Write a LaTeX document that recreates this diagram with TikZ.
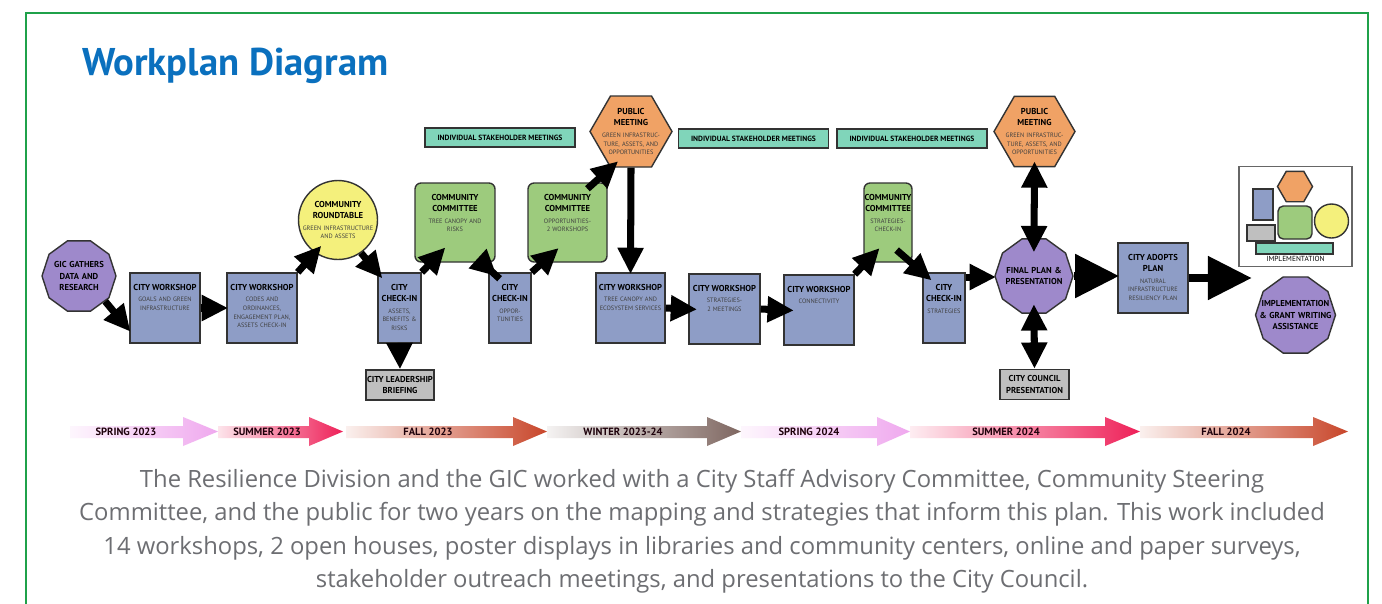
\documentclass[tikz,border=0pt]{standalone}
\usepackage{fontspec}
\setmainfont{PT Sans}
\newfontfamily\capfont{Open Sans}
\usetikzlibrary{arrows.meta,shapes.geometric}

\definecolor{framegreen}{HTML}{1FA14A}
\definecolor{titleblue}{HTML}{0A70BE}
\definecolor{captiongray}{HTML}{6D6E72}
\definecolor{wsblue}{HTML}{8E9DC6}
\definecolor{ccgreen}{HTML}{9DCB7D}
\definecolor{rtyellow}{HTML}{F4F07C}
\definecolor{pmorange}{HTML}{F0A265}
\definecolor{gicpurple}{HTML}{9E89CB}
\definecolor{brgray}{HTML}{BFBFBF}
\definecolor{shteal}{HTML}{80D5BA}
\definecolor{spring}{HTML}{EFA8EE}
\definecolor{summer}{HTML}{EE2058}
\definecolor{fall}{HTML}{C8462A}
\definecolor{winter}{HTML}{7E6660}

\newcommand{\subfont}{\fontsize{3.6}{4.9}\selectfont}
\newcommand{\tfont}{\fontsize{4.9}{6.3}\selectfont\bfseries}
\newcommand{\hd}[1]{{\leavevmode\tfont\color{black}#1\par}\vspace{1.9pt}}

\begin{document}
\begin{tikzpicture}[x=0.02cm, y=-0.02cm,
  wbox/.style={draw=black!80, line width=0.8pt, fill=wsblue, text width=#1, align=center,
    inner xsep=0pt, inner ysep=0.2cm, text height=0.14cm, text depth=0.86cm, font=\subfont, text=black!75},
  cbox/.style={wbox=#1, fill=ccgreen, rounded corners=0.12cm, text depth=1.04cm},
  gbox/.style={draw=black!80, line width=0.8pt, fill=brgray, minimum width=#1, minimum height=0.6cm,
    inner sep=0pt, align=center, font=\tfont},
  sbox/.style={draw=black!80, line width=0.8pt, fill=shteal, minimum width=3cm, minimum height=0.38cm,
    inner sep=0pt, font=\fontsize{4.3}{5}\selectfont\bfseries},
  hexa/.style={regular polygon, regular polygon sides=6, draw=black!80, line width=0.8pt, fill=pmorange,
    minimum size=1.64cm, inner sep=-16pt, text width=1.4cm, align=center, font=\subfont, text=black!75},
  poly/.style={regular polygon, regular polygon sides=10, draw=black!80, line width=0.8pt, fill=gicpurple,
    minimum size=#1, inner sep=-16pt, text width=1.5cm, align=center, font=\tfont},
  arr/.style={line width=4pt, -{Triangle[length=15pt,width=14pt]}, shorten >=-1pt},
  dblarr/.style={line width=4pt, {Triangle[length=15pt,width=14pt]}-{Triangle[length=15pt,width=14pt]}},
  bigarr/.style={line width=4.5pt, -{Triangle[length=25pt,width=24pt]}, shorten >=-1pt},
  season/.style={font=\fontsize{6}{7}\selectfont\bfseries, text=black!85!purple, inner sep=0pt}]

\fill[white] (0,0) rectangle (1382,603);
\useasboundingbox (0,0) rectangle (1382,603);
\draw[framegreen, line width=1.6pt] (26,620) -- (26,13) -- (1368,13) -- (1368,620);

\node[anchor=base west, inner sep=0pt, font=\fontsize{22}{26}\selectfont\bfseries, text=titleblue] (title) at (82,75) {Workplan Diagram};

\node[poly=1.48cm] (gic) at (79,276) {GIC GATHERS\\DATA AND\\RESEARCH};
\node[wbox=1.4cm] (cw1) at (165,308) {\hd{CITY WORKSHOP}GOALS AND GREEN\\INFRASTRUCTURE};
\node[wbox=1.4cm] (cw2) at (262,308) {\hd{CITY WORKSHOP}CODES AND\\ORDINANCES,\\ENGAGEMENT PLAN,\\ASSETS CHECK-IN};
\node[circle, draw=black!80, line width=0.8pt, fill=rtyellow, minimum size=1.58cm, inner sep=-18pt, text width=1.56cm, align=center, font=\subfont, text=black!75] (rt) at (338,220) {\hd{COMMUNITY\\ROUNDTABLE}GREEN INFRASTRUCTURE\\AND ASSETS};
\node[wbox=0.86cm] (ci1) at (399.5,308) {\hd{CITY\\CHECK-IN}ASSETS,\\BENEFITS \&\\RISKS};
\node[gbox=1.36cm] (brief) at (400,385) {CITY LEADERSHIP\\BRIEFING};
\node[cbox=1.6cm] (cc1) at (455,222.5) {\hd{COMMUNITY\\COMMITTEE}TREE CANOPY AND\\RISKS};
\node[wbox=0.84cm] (ci2) at (510,308) {\hd{CITY\\CHECK-IN}OPPOR-\\TUNITIES};
\node[cbox=1.58cm] (cc2) at (567.5,222.5) {\hd{COMMUNITY\\COMMITTEE}OPPORTUNITIES-\\2 WORKSHOPS};
\node[sbox] (sh1) at (500,137.5) {INDIVIDUAL STAKEHOLDER MEETINGS};
\node[hexa] (pm1) at (631,131.5) {\hd{PUBLIC\\MEETING}GREEN INFRASTRUC-\\TURE, ASSETS, AND\\OPPORTUNITIES};
\node[wbox=1.38cm] (cw3) at (630.5,308) {\hd{CITY WORKSHOP}TREE CANOPY AND\\ECOSYSTEM SERVICES};
\node[wbox=1.42cm] (cw4) at (724.5,309) {\hd{CITY WORKSHOP}STRATEGIES-\\2 MEETINGS};
\node[sbox] (sh2) at (753.5,138.5) {INDIVIDUAL STAKEHOLDER MEETINGS};
\node[sbox] (sh3) at (912,138.5) {INDIVIDUAL STAKEHOLDER MEETINGS};
\node[wbox=1.4cm] (cw5) at (819,310) {\hd{CITY WORKSHOP}CONNECTIVITY};
\node[cbox=0.96cm] (cc3) at (888,222.5) {\hd{COMMUNITY\\COMMITTEE}STRATEGIES-\\CHECK-IN};
\node[wbox=0.84cm] (ci3) at (944,308) {\hd{CITY\\CHECK-IN}STRATEGIES};
\node[hexa, minimum size=1.62cm] (pm2) at (1034.5,131.5) {\hd{PUBLIC\\MEETING}GREEN INFRASTRUC-\\TURE, ASSETS, AND\\OPPORTUNITIES};
\node[poly=1.56cm] (fin) at (1034,276) {FINAL PLAN \&\\PRESENTATION};
\node[gbox=1.38cm] (council) at (1034.5,384.5) {CITY COUNCIL\\PRESENTATION};
\node[wbox=1.4cm] (adopt) at (1153,278) {\hd{CITY ADOPTS\\PLAN}NATURAL\\INFRASTRUCTURE\\RESILIENCY PLAN};
\node[draw=black!60, line width=0.8pt, fill=white, text width=2.26cm, align=center, inner xsep=0pt, inner ysep=0.06cm, text height=1.84cm, text depth=0.04cm, font=\fontsize{4.2}{5}\selectfont] (implbox) at (1295.5,216.5) {IMPLEMENTATION};
\node[poly=1.6cm] (impl) at (1295.5,315) {IMPLEMENTATION\\\& GRANT WRITING\\ASSISTANCE};
\coordinate (implin) at (1250,278);

\draw[line width=0.8pt, draw=black!80, fill=wsblue] (1253,189) rectangle (1273,220);
\draw[line width=0.8pt, draw=black!80, fill=pmorange] (1277.5,186.5) -- (1286.25,171.3) -- (1303.75,171.3) -- (1312.5,186.5) -- (1303.75,201.7) -- (1286.25,201.7) -- cycle;
\draw[line width=0.8pt, draw=black!80, fill=ccgreen, rounded corners=3pt] (1278,206) rectangle (1312,239);
\draw[line width=0.8pt, draw=black!80, fill=rtyellow] (1331.5,221) circle (17);
\draw[line width=0.8pt, draw=black!80, fill=brgray] (1247,225) rectangle (1275,241);
\draw[line width=0.8pt, draw=black!80, fill=shteal] (1256,243) rectangle (1333,254);

\draw[arr] (gic.-44) -- (cw1.212);
\draw[arr] (cw1.east) -- (cw2.west);
\draw[arr, shorten >=-5.5pt] (cw2.north east) -- (rt.235);
\draw[arr, shorten >=-4.5pt] (rt.-55) -- (ci1.north west);
\draw[arr, shorten >=0pt] (ci1.south) -- (brief.north);
\draw[arr, shorten >=-12pt] (ci1.north east) -- (cc1.-121);
\draw[arr, shorten <=-13.5pt, shorten >=-3.4pt] (cc1.-56) -- (ci2.116);
\draw[arr, shorten >=-12.5pt] (ci2.north east) -- (cc2.-122);
\draw[arr, shorten <=-5.5pt, shorten >=-5.5pt] (cc2.56) -- (pm1.-119);
\draw[arr] (pm1.south) -- (cw3.north);
\draw[arr, shorten >=-5pt] (cw3.east) -- (cw4.west);
\draw[arr, shorten >=-6pt] (cw4.east) -- (cw5.west);
\draw[arr, shorten >=-11.5pt] (cw5.north east) -- (cc3.-119);
\draw[arr, shorten <=-11pt, shorten >=-7pt] (cc3.-60) -- (ci3.north west);
\draw[arr] (ci3.55) -- (ci3.55 -| fin.west);
\draw[dblarr, shorten <=-3.4pt, shorten >=-8pt] (pm2.south) -- (fin.north);
\draw[dblarr, shorten <=-5.5pt] (fin.south) -- (council.north);
\draw[bigarr] (fin.east) -- (fin.east -| adopt.west);
\draw[bigarr] (adopt.east) -- (implin);

\shade[left color=spring!10, right color=spring] (70,426) -- (183,426) -- (183,417) -- (218,431.5) -- (183,446) -- (183,438) -- (70,438) -- cycle;
\shade[left color=summer!12, right color=summer] (218,426) -- (309,426) -- (309,417) -- (343,431.5) -- (309,446) -- (309,438) -- (218,438) -- cycle;
\shade[left color=fall!8, right color=fall] (346,426) -- (513,426) -- (513,417) -- (547,431.5) -- (513,446) -- (513,438) -- (346,438) -- cycle;
\shade[left color=winter!8, right color=winter] (547,426) -- (707,426) -- (707,417) -- (741,431.5) -- (707,446) -- (707,438) -- (547,438) -- cycle;
\shade[left color=spring!10, right color=spring] (741,426) -- (877,426) -- (877,417) -- (910,431.5) -- (877,446) -- (877,438) -- (741,438) -- cycle;
\shade[left color=summer!8, right color=summer] (910,426) -- (1105,426) -- (1105,417) -- (1140,431.5) -- (1105,446) -- (1105,438) -- (910,438) -- cycle;
\shade[left color=fall!8, right color=fall] (1140,426) -- (1313,426) -- (1313,417) -- (1348,431.5) -- (1313,446) -- (1313,438) -- (1140,438) -- cycle;

\node[season] (spr23) at (126,432) {SPRING 2023};
\node[season] (sum23) at (267,432) {SUMMER 2023};
\node[season] (fal23) at (428,432) {FALL 2023};
\node[season] (win23) at (623,432) {WINTER 2023-24};
\node[season] (spr24) at (809,432) {SPRING 2024};
\node[season] (sum24) at (1006,432) {SUMMER 2024};
\node[season] (fal24) at (1226,432) {FALL 2024};

\node[anchor=north, inner sep=0pt, align=center, font=\capfont\fontsize{13.55}{19}\selectfont, text=captiongray] (caption) at (702,469) {The Resilience Division and the GIC worked with a City Staff Advisory Committee, Community Steering\\
Committee, and the public for two years on the mapping and strategies that inform this plan. This work included\\
14 workshops, 2 open houses, poster displays in libraries and community centers, online and paper surveys,\\
stakeholder outreach meetings, and presentations to the City Council.};

\end{tikzpicture}
\end{document}
